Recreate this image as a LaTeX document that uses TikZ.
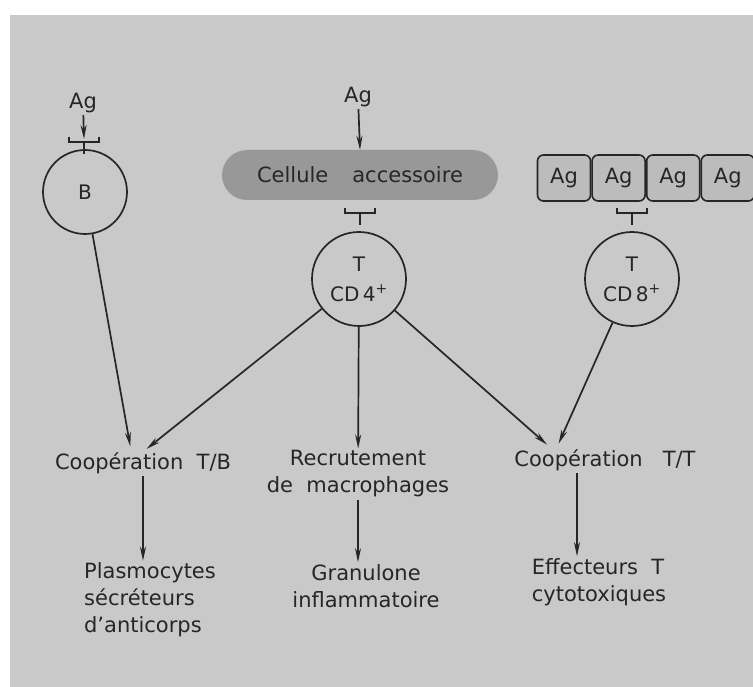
\documentclass[tikz,border=0pt]{standalone}
\usepackage{fontspec}
\setmainfont{DejaVu Sans}
\usetikzlibrary{positioning,arrows.meta}
\definecolor{bggray}{RGB}{201,201,201}
\definecolor{blobgray}{RGB}{152,152,152}
\definecolor{boxgray}{RGB}{188,188,188}
\definecolor{ink}{RGB}{38,38,38}
\tikzset{
  cell/.style={circle,draw=ink,line width=1.7pt,minimum size=88pt,inner sep=0pt,
    font=\fontsize{20}{30}\selectfont,text=ink,align=center},
  lbl/.style={font=\fontsize{21}{27}\selectfont,text=ink,inner sep=2pt},
  agbox/.style={lbl,draw=ink,fill=boxgray,line width=1.6pt,rounded corners=6pt,
    minimum width=53pt,minimum height=46pt},
  arr/.style={-{Stealth[length=14pt,width=6pt]},line width=1.7pt,draw=ink},
  receptor/.pic={\draw[ink,line width=1.7pt] (-15,-5) -- (-15,0) -- (15,0) -- (15,-5);
    \draw[ink,line width=1.7pt] (0,0) -- (0,12);}
}
\begin{document}
\begin{tikzpicture}[x=1pt,y=-1pt]
\useasboundingbox (0,0) rectangle (753,687);
\fill[white] (0,0) rectangle (753,687);
\fill[bggray] (10,15) rectangle (753,687);
% cellule B
\node[lbl](agb) at (83,103){Ag};
\node[cell,minimum size=84pt](b) at (85,192){B};
\pic at (84,142) {receptor};
\draw[arr] (agb) -- (84,139);
% cellule accessoire et T CD4
\node[lbl](aga) at (358,97){Ag};
\node[lbl,fill=blobgray,rounded corners=25pt,minimum width=276pt,minimum height=50pt](acc) at (360,175){Cellule\hspace{24pt}accessoire};
\draw[arr] (aga) -- (acc.north);
\node[cell,minimum size=94pt](cd4) at (359,279){T\\CD\,4\textsuperscript{+}};
\pic at (360,213) {receptor};
% antigenes et T CD8
\node[agbox](ag1) at (564,178){Ag};
\node[agbox](ag2)[right=0pt of ag1]{Ag};
\node[agbox](ag3)[right=0pt of ag2]{Ag};
\node[agbox](ag4)[right=0pt of ag3]{Ag};
\node[cell,minimum size=94pt](cd8) at (632,279){T\\CD\,8\textsuperscript{+}};
\pic at (632,213) {receptor};
% effets
\node[lbl](tb) at (143,463){Coopération\ \ T/B};
\node[lbl,align=center](mac) at (358,474){Recrutement\\de\ \ macrophages};
\node[lbl](tt) at (605,460){Coopération\ \ \ T/T};
\node[lbl,align=left](plasmo) at (150,600){Plasmocytes\\sécréteurs\\d'anticorps};
\node[lbl,align=center](gran) at (366,586){Granulone\\inflammatoire};
\node[lbl,align=left](eff) at (599,582){Effecteurs\ \ T\\cytotoxiques};
\draw[arr,shorten >=4pt] (b) -- ([xshift=-12pt]tb.north);
\draw[arr,shorten >=2pt] (cd4) -- ([xshift=2pt]tb.north);
\draw[arr] (cd4) -- (mac);
\draw[arr,shorten >=4pt] (cd4) -- ([xshift=-55pt]tt.north);
\draw[arr,shorten >=4pt] (cd8) -- ([xshift=-48pt]tt.north);
\draw[arr] (tb.south) -- (tb.south |- plasmo.north);
\draw[arr] (mac.south) -- (mac.south |- gran.north);
\draw[arr] ([xshift=-28pt]tt.south) -- ([xshift=-28pt]tt.south |- eff.north);
\end{tikzpicture}
\end{document}
